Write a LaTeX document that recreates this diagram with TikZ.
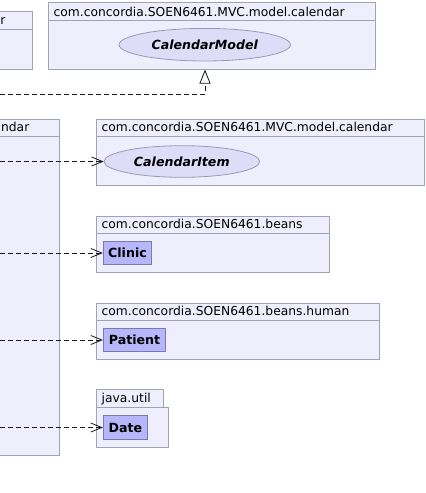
\documentclass[tikz,border=0pt]{standalone}
\usepackage{fontspec}
\setmainfont{DejaVu Sans}
\usetikzlibrary{shapes.geometric,arrows.meta}
\definecolor{pkgfill}{HTML}{EEEEFC}
\definecolor{pkgline}{HTML}{A2A2B6}
\definecolor{ellfill}{HTML}{DDDDF8}
\definecolor{ellline}{HTML}{9A9AB8}
\definecolor{clsfill}{HTML}{B6B6FA}
\definecolor{clsline}{HTML}{7A7AB0}
\tikzset{
  pkgbox/.style={draw=pkgline, fill=pkgfill, line width=0.9pt, inner sep=0pt, anchor=north west},
  pkglabel/.style={inner sep=0pt, anchor=base west, font=\fontsize{12.3}{14}\selectfont},
  usecase/.style={ellipse, draw=ellline, fill=ellfill, line width=0.8pt, inner sep=0pt,
     font=\fontsize{12.6}{14}\selectfont\bfseries\itshape},
  clsbox/.style={draw=clsline, fill=clsfill, line width=0.9pt, inner sep=0pt,
     font=\fontsize{12.6}{14}\selectfont\bfseries},
  dep/.style={draw=black!90, line width=0.8pt, dash pattern=on 5pt off 3pt},
}
\begin{document}
\begin{tikzpicture}[x=1pt,y=-1pt]
\clip (0,0) rectangle (426,493);
\fill[white] (0,0) rectangle (426,493);

% partial package top-left
\node[pkgbox, minimum width=51.7pt, minimum height=58pt] (pkgA) at (-20,11) {};
\draw[pkgline, line width=0.9pt] (-20,29.3) -- (31.7,29.3);
\node[pkglabel] (lblA) at (0.2,24.5) {r};

% partial big package left
\node[pkgbox, minimum width=78.7pt, minimum height=335.7pt] (pkgB) at (-20,119.3) {};
\draw[pkgline, line width=0.9pt] (-20,136) -- (58.7,136);
\node[pkglabel, anchor=base east] (lblB) at (29.5,131.2) {ndar};

% CalendarModel package
\node[pkgbox, minimum width=327.6pt, minimum height=67pt] (pkgM) at (47.7,2.3) {};
\draw[pkgline, line width=0.9pt] (47.7,20.3) -- (375.3,20.3);
\node[pkglabel] (lblM) at (53.5,16) {com.concordia.SOEN6461.MVC.model.calendar};
\node[usecase, minimum width=171.4pt, minimum height=32.6pt] (calModel) at (204.7,44.7) {CalendarModel};

% CalendarItem package
\node[pkgbox, minimum width=328pt, minimum height=65.7pt] (pkgI) at (95.7,119.3) {};
\draw[pkgline, line width=0.9pt] (95.7,136) -- (423.7,136);
\node[pkglabel] (lblI) at (101.5,131.2) {com.concordia.SOEN6461.MVC.model.calendar};
\node[usecase, minimum width=155.6pt, minimum height=31.6pt] (calItem) at (181.8,161.5) {CalendarItem};

% beans package
\node[pkgbox, minimum width=233.6pt, minimum height=56.3pt] (pkgC) at (95.7,216) {};
\draw[pkgline, line width=0.9pt] (95.7,233.3) -- (329.3,233.3);
\node[pkglabel] (lblC) at (101.5,228.5) {com.concordia.SOEN6461.beans};
\node[clsbox, minimum width=48.4pt, minimum height=22.6pt] (clinic) at (127.5,253) {Clinic};

% beans.human package
\node[pkgbox, minimum width=283.6pt, minimum height=56.6pt] (pkgP) at (95.7,302.7) {};
\draw[pkgline, line width=0.9pt] (95.7,320.3) -- (379.3,320.3);
\node[pkglabel] (lblP) at (101.5,315.5) {com.concordia.SOEN6461.beans.human};
\node[clsbox, minimum width=62.4pt, minimum height=23.4pt] (patient) at (134.5,340) {Patient};

% java.util package
\node[pkgbox, minimum width=67pt, minimum height=17.7pt] (tabD) at (95.7,389.3) {};
\node[pkgbox, minimum width=72pt, minimum height=40.3pt] (pkgD) at (95.7,407) {};
\node[pkglabel] (lblD) at (101.5,402.3) {java.util};
\node[clsbox, minimum width=44.4pt, minimum height=24.4pt] (date) at (125.5,427.5) {Date};

% connectors
\coordinate (s1) at (0,94.3);
\coordinate (t1) at (205,69.6);
\coordinate (s2) at (0,161.5);
\coordinate (s3) at (0,253);
\coordinate (s4) at (0,340);
\coordinate (s5) at (0,427.5);
\draw[dep, -{Triangle[open, length=14pt, width=11pt, line width=0.8pt]}] (s1) -| (t1);
\draw[dep, -{Straight Barb[length=11pt, width=9pt, line width=0.8pt]}] (s2) -- (calItem.west);
\draw[dep, -{Straight Barb[length=11pt, width=9pt, line width=0.8pt]}] (s3) -- (clinic.west);
\draw[dep, -{Straight Barb[length=11pt, width=9pt, line width=0.8pt]}] (s4) -- (patient.west);
\draw[dep, -{Straight Barb[length=11pt, width=9pt, line width=0.8pt]}] (s5) -- (date.west);
\end{tikzpicture}
\end{document}
